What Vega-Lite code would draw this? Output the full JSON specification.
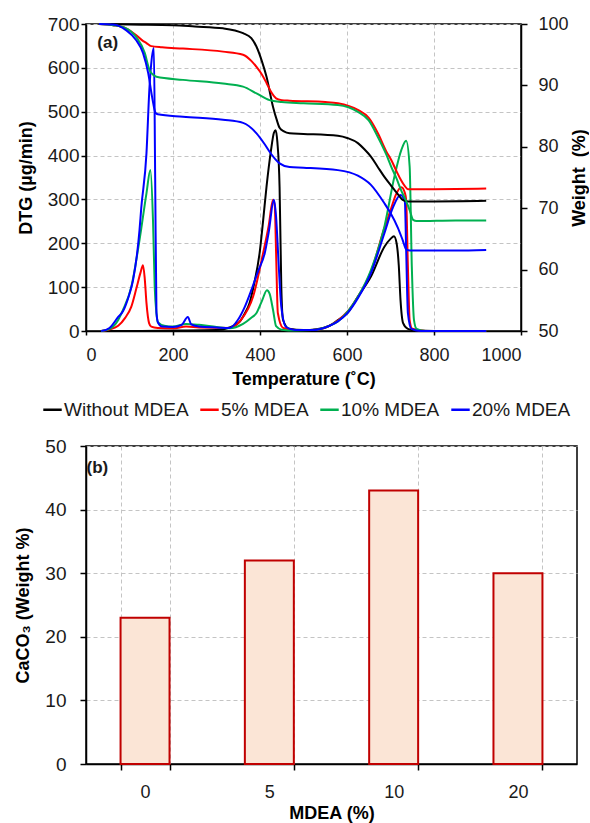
{
  "$schema": "https://vega.github.io/schema/vega-lite/v6.json",
  "padding": {"left": 14, "top": 14, "right": 0, "bottom": 0},
  "spacing": 15,
  "config": {
    "font": "Liberation Sans",
    "view": {"stroke": "black", "strokeWidth": 1.5},
    "axis": {
      "domainColor": "black", "domainWidth": 1.5,
      "tickColor": "black", "tickWidth": 1.5,
      "labelColor": "#1a1a1a", "labelFont": "Liberation Sans", "labelFontSize": 18,
      "titleFont": "Liberation Sans", "titleFontSize": 18, "titleFontWeight": "bold", "titleColor": "black",
      "gridColor": "#c4c4c4", "gridDash": [4, 3], "gridWidth": 1
    }
  },
  "resolve": {"scale": {"color": "independent"}},
  "datasets": {
    "dtg": [
      {"s":"Without MDEA","T":35,"v":0},{"s":"Without MDEA","T":100,"v":0},{"s":"Without MDEA","T":200,"v":1},{"s":"Without MDEA","T":300,"v":2},{"s":"Without MDEA","T":330,"v":8},{"s":"Without MDEA","T":353,"v":21},{"s":"Without MDEA","T":365,"v":40},{"s":"Without MDEA","T":376,"v":64},{"s":"Without MDEA","T":387,"v":110},{"s":"Without MDEA","T":399,"v":177},{"s":"Without MDEA","T":407,"v":250},{"s":"Without MDEA","T":415,"v":329},{"s":"Without MDEA","T":425,"v":410},{"s":"Without MDEA","T":432,"v":452},{"s":"Without MDEA","T":436,"v":458},{"s":"Without MDEA","T":440,"v":430},{"s":"Without MDEA","T":445,"v":328},{"s":"Without MDEA","T":449,"v":100},{"s":"Without MDEA","T":453,"v":25},{"s":"Without MDEA","T":467,"v":5},{"s":"Without MDEA","T":500,"v":2},{"s":"Without MDEA","T":530,"v":4},{"s":"Without MDEA","T":560,"v":12},{"s":"Without MDEA","T":579,"v":25},{"s":"Without MDEA","T":602,"v":42},{"s":"Without MDEA","T":625,"v":78},{"s":"Without MDEA","T":655,"v":124},{"s":"Without MDEA","T":686,"v":192},{"s":"Without MDEA","T":700,"v":210},{"s":"Without MDEA","T":708,"v":216},{"s":"Without MDEA","T":714,"v":200},{"s":"Without MDEA","T":719,"v":150},{"s":"Without MDEA","T":723,"v":71},{"s":"Without MDEA","T":729,"v":18},{"s":"Without MDEA","T":740,"v":5},{"s":"Without MDEA","T":760,"v":1},{"s":"Without MDEA","T":800,"v":0},{"s":"Without MDEA","T":920,"v":0},
      {"s":"5% MDEA","T":35,"v":0},{"s":"5% MDEA","T":55,"v":4},{"s":"5% MDEA","T":74,"v":12},{"s":"5% MDEA","T":90,"v":30},{"s":"5% MDEA","T":104,"v":55},{"s":"5% MDEA","T":116,"v":98},{"s":"5% MDEA","T":125,"v":132},{"s":"5% MDEA","T":131,"v":150},{"s":"5% MDEA","T":135,"v":120},{"s":"5% MDEA","T":139,"v":64},{"s":"5% MDEA","T":145,"v":18},{"s":"5% MDEA","T":150,"v":10},{"s":"5% MDEA","T":165,"v":7},{"s":"5% MDEA","T":200,"v":6},{"s":"5% MDEA","T":230,"v":10},{"s":"5% MDEA","T":260,"v":8},{"s":"5% MDEA","T":330,"v":7},{"s":"5% MDEA","T":356,"v":25},{"s":"5% MDEA","T":384,"v":78},{"s":"5% MDEA","T":407,"v":177},{"s":"5% MDEA","T":420,"v":240},{"s":"5% MDEA","T":430,"v":299},{"s":"5% MDEA","T":434,"v":285},{"s":"5% MDEA","T":437,"v":177},{"s":"5% MDEA","T":441,"v":41},{"s":"5% MDEA","T":453,"v":7},{"s":"5% MDEA","T":480,"v":2},{"s":"5% MDEA","T":520,"v":2},{"s":"5% MDEA","T":560,"v":12},{"s":"5% MDEA","T":579,"v":24},{"s":"5% MDEA","T":602,"v":45},{"s":"5% MDEA","T":625,"v":78},{"s":"5% MDEA","T":655,"v":135},{"s":"5% MDEA","T":686,"v":235},{"s":"5% MDEA","T":700,"v":275},{"s":"5% MDEA","T":712,"v":310},{"s":"5% MDEA","T":725,"v":328},{"s":"5% MDEA","T":733,"v":315},{"s":"5% MDEA","T":736,"v":299},{"s":"5% MDEA","T":740,"v":147},{"s":"5% MDEA","T":744,"v":25},{"s":"5% MDEA","T":750,"v":5},{"s":"5% MDEA","T":780,"v":0},{"s":"5% MDEA","T":920,"v":0},
      {"s":"10% MDEA","T":35,"v":0},{"s":"10% MDEA","T":55,"v":5},{"s":"10% MDEA","T":74,"v":25},{"s":"10% MDEA","T":85,"v":48},{"s":"10% MDEA","T":104,"v":100},{"s":"10% MDEA","T":123,"v":207},{"s":"10% MDEA","T":139,"v":314},{"s":"10% MDEA","T":148,"v":367},{"s":"10% MDEA","T":154,"v":253},{"s":"10% MDEA","T":158,"v":100},{"s":"10% MDEA","T":162,"v":40},{"s":"10% MDEA","T":165,"v":20},{"s":"10% MDEA","T":180,"v":12},{"s":"10% MDEA","T":200,"v":10},{"s":"10% MDEA","T":230,"v":16},{"s":"10% MDEA","T":260,"v":14},{"s":"10% MDEA","T":300,"v":9},{"s":"10% MDEA","T":330,"v":6},{"s":"10% MDEA","T":361,"v":16},{"s":"10% MDEA","T":380,"v":30},{"s":"10% MDEA","T":392,"v":41},{"s":"10% MDEA","T":405,"v":70},{"s":"10% MDEA","T":416,"v":93},{"s":"10% MDEA","T":422,"v":85},{"s":"10% MDEA","T":430,"v":48},{"s":"10% MDEA","T":437,"v":11},{"s":"10% MDEA","T":450,"v":3},{"s":"10% MDEA","T":480,"v":1},{"s":"10% MDEA","T":520,"v":2},{"s":"10% MDEA","T":560,"v":12},{"s":"10% MDEA","T":579,"v":22},{"s":"10% MDEA","T":602,"v":45},{"s":"10% MDEA","T":625,"v":78},{"s":"10% MDEA","T":655,"v":139},{"s":"10% MDEA","T":686,"v":238},{"s":"10% MDEA","T":709,"v":352},{"s":"10% MDEA","T":725,"v":413},{"s":"10% MDEA","T":736,"v":434},{"s":"10% MDEA","T":744,"v":375},{"s":"10% MDEA","T":749,"v":147},{"s":"10% MDEA","T":754,"v":25},{"s":"10% MDEA","T":760,"v":5},{"s":"10% MDEA","T":780,"v":0},{"s":"10% MDEA","T":920,"v":0},
      {"s":"20% MDEA","T":35,"v":0},{"s":"20% MDEA","T":54,"v":7},{"s":"20% MDEA","T":74,"v":32},{"s":"20% MDEA","T":85,"v":45},{"s":"20% MDEA","T":100,"v":85},{"s":"20% MDEA","T":108,"v":115},{"s":"20% MDEA","T":123,"v":230},{"s":"20% MDEA","T":127,"v":280},{"s":"20% MDEA","T":139,"v":405},{"s":"20% MDEA","T":146,"v":557},{"s":"20% MDEA","T":150,"v":610},{"s":"20% MDEA","T":156,"v":645},{"s":"20% MDEA","T":159,"v":350},{"s":"20% MDEA","T":162,"v":41},{"s":"20% MDEA","T":166,"v":18},{"s":"20% MDEA","T":175,"v":10},{"s":"20% MDEA","T":200,"v":9},{"s":"20% MDEA","T":220,"v":14},{"s":"20% MDEA","T":234,"v":32},{"s":"20% MDEA","T":242,"v":15},{"s":"20% MDEA","T":260,"v":10},{"s":"20% MDEA","T":300,"v":8},{"s":"20% MDEA","T":330,"v":7},{"s":"20% MDEA","T":349,"v":25},{"s":"20% MDEA","T":365,"v":55},{"s":"20% MDEA","T":380,"v":93},{"s":"20% MDEA","T":395,"v":135},{"s":"20% MDEA","T":411,"v":178},{"s":"20% MDEA","T":420,"v":225},{"s":"20% MDEA","T":432,"v":299},{"s":"20% MDEA","T":437,"v":260},{"s":"20% MDEA","T":443,"v":150},{"s":"20% MDEA","T":449,"v":55},{"s":"20% MDEA","T":460,"v":9},{"s":"20% MDEA","T":480,"v":2},{"s":"20% MDEA","T":520,"v":2},{"s":"20% MDEA","T":560,"v":12},{"s":"20% MDEA","T":579,"v":22},{"s":"20% MDEA","T":602,"v":42},{"s":"20% MDEA","T":625,"v":75},{"s":"20% MDEA","T":655,"v":132},{"s":"20% MDEA","T":686,"v":223},{"s":"20% MDEA","T":705,"v":280},{"s":"20% MDEA","T":723,"v":310},{"s":"20% MDEA","T":733,"v":295},{"s":"20% MDEA","T":736,"v":185},{"s":"20% MDEA","T":740,"v":41},{"s":"20% MDEA","T":748,"v":5},{"s":"20% MDEA","T":770,"v":0},{"s":"20% MDEA","T":920,"v":0}
    ],
    "wt": [
      {"s":"Without MDEA","T":30,"v":100},{"s":"Without MDEA","T":100,"v":99.9},{"s":"Without MDEA","T":200,"v":99.8},{"s":"Without MDEA","T":250,"v":99.6},{"s":"Without MDEA","T":315,"v":99.3},{"s":"Without MDEA","T":361,"v":98.5},{"s":"Without MDEA","T":380,"v":97.7},{"s":"Without MDEA","T":392,"v":96.3},{"s":"Without MDEA","T":405,"v":93.8},{"s":"Without MDEA","T":415,"v":91.4},{"s":"Without MDEA","T":430,"v":86.5},{"s":"Without MDEA","T":438,"v":84.5},{"s":"Without MDEA","T":445,"v":83.1},{"s":"Without MDEA","T":455,"v":82.5},{"s":"Without MDEA","T":468,"v":82.2},{"s":"Without MDEA","T":500,"v":82.1},{"s":"Without MDEA","T":579,"v":81.8},{"s":"Without MDEA","T":602,"v":81.4},{"s":"Without MDEA","T":625,"v":80.6},{"s":"Without MDEA","T":640,"v":79.6},{"s":"Without MDEA","T":655,"v":78.4},{"s":"Without MDEA","T":670,"v":76.8},{"s":"Without MDEA","T":686,"v":75.1},{"s":"Without MDEA","T":700,"v":73.8},{"s":"Without MDEA","T":709,"v":73.0},{"s":"Without MDEA","T":720,"v":72.0},{"s":"Without MDEA","T":729,"v":71.3},{"s":"Without MDEA","T":740,"v":71.1},{"s":"Without MDEA","T":800,"v":71.1},{"s":"Without MDEA","T":920,"v":71.2},
      {"s":"5% MDEA","T":30,"v":100},{"s":"5% MDEA","T":62,"v":99.8},{"s":"5% MDEA","T":92,"v":99.3},{"s":"5% MDEA","T":115,"v":98.2},{"s":"5% MDEA","T":130,"v":97.3},{"s":"5% MDEA","T":139,"v":96.9},{"s":"5% MDEA","T":150,"v":96.4},{"s":"5% MDEA","T":175,"v":96.2},{"s":"5% MDEA","T":223,"v":96.0},{"s":"5% MDEA","T":315,"v":95.5},{"s":"5% MDEA","T":361,"v":95.0},{"s":"5% MDEA","T":380,"v":94.0},{"s":"5% MDEA","T":392,"v":93.0},{"s":"5% MDEA","T":405,"v":91.7},{"s":"5% MDEA","T":415,"v":90.4},{"s":"5% MDEA","T":425,"v":89.0},{"s":"5% MDEA","T":437,"v":87.9},{"s":"5% MDEA","T":450,"v":87.6},{"s":"5% MDEA","T":468,"v":87.5},{"s":"5% MDEA","T":550,"v":87.3},{"s":"5% MDEA","T":579,"v":87.1},{"s":"5% MDEA","T":625,"v":86.0},{"s":"5% MDEA","T":650,"v":84.7},{"s":"5% MDEA","T":671,"v":82.2},{"s":"5% MDEA","T":690,"v":79.3},{"s":"5% MDEA","T":702,"v":77.8},{"s":"5% MDEA","T":714,"v":76.0},{"s":"5% MDEA","T":724,"v":74.6},{"s":"5% MDEA","T":733,"v":73.6},{"s":"5% MDEA","T":740,"v":73.1},{"s":"5% MDEA","T":800,"v":73.1},{"s":"5% MDEA","T":920,"v":73.2},
      {"s":"10% MDEA","T":30,"v":100},{"s":"10% MDEA","T":62,"v":99.8},{"s":"10% MDEA","T":92,"v":99.3},{"s":"10% MDEA","T":115,"v":97.9},{"s":"10% MDEA","T":135,"v":95.3},{"s":"10% MDEA","T":146,"v":92.5},{"s":"10% MDEA","T":155,"v":91.7},{"s":"10% MDEA","T":162,"v":91.4},{"s":"10% MDEA","T":223,"v":90.9},{"s":"10% MDEA","T":315,"v":90.3},{"s":"10% MDEA","T":361,"v":89.8},{"s":"10% MDEA","T":392,"v":88.7},{"s":"10% MDEA","T":422,"v":87.6},{"s":"10% MDEA","T":450,"v":87.3},{"s":"10% MDEA","T":500,"v":87.1},{"s":"10% MDEA","T":579,"v":86.8},{"s":"10% MDEA","T":625,"v":85.7},{"s":"10% MDEA","T":650,"v":84.3},{"s":"10% MDEA","T":671,"v":81.6},{"s":"10% MDEA","T":690,"v":78.8},{"s":"10% MDEA","T":702,"v":76.7},{"s":"10% MDEA","T":714,"v":74.8},{"s":"10% MDEA","T":724,"v":73.0},{"s":"10% MDEA","T":735,"v":71.3},{"s":"10% MDEA","T":744,"v":69.7},{"s":"10% MDEA","T":752,"v":68.1},{"s":"10% MDEA","T":760,"v":67.9},{"s":"10% MDEA","T":850,"v":68.0},{"s":"10% MDEA","T":920,"v":68.0},
      {"s":"20% MDEA","T":30,"v":100},{"s":"20% MDEA","T":62,"v":99.9},{"s":"20% MDEA","T":92,"v":99.0},{"s":"20% MDEA","T":115,"v":97.4},{"s":"20% MDEA","T":131,"v":95.3},{"s":"20% MDEA","T":143,"v":92.0},{"s":"20% MDEA","T":152,"v":88.1},{"s":"20% MDEA","T":160,"v":85.5},{"s":"20% MDEA","T":165,"v":85.3},{"s":"20% MDEA","T":223,"v":84.9},{"s":"20% MDEA","T":315,"v":84.4},{"s":"20% MDEA","T":361,"v":83.9},{"s":"20% MDEA","T":392,"v":82.2},{"s":"20% MDEA","T":410,"v":80.5},{"s":"20% MDEA","T":422,"v":79.2},{"s":"20% MDEA","T":435,"v":78.0},{"s":"20% MDEA","T":445,"v":77.3},{"s":"20% MDEA","T":468,"v":76.7},{"s":"20% MDEA","T":500,"v":76.6},{"s":"20% MDEA","T":579,"v":76.2},{"s":"20% MDEA","T":625,"v":75.3},{"s":"20% MDEA","T":655,"v":73.8},{"s":"20% MDEA","T":686,"v":70.8},{"s":"20% MDEA","T":700,"v":69.2},{"s":"20% MDEA","T":717,"v":66.8},{"s":"20% MDEA","T":728,"v":64.8},{"s":"20% MDEA","T":736,"v":63.3},{"s":"20% MDEA","T":745,"v":63.1},{"s":"20% MDEA","T":850,"v":63.1},{"s":"20% MDEA","T":920,"v":63.2}
    ],
    "bars": [
      {"m":"0","w":23},{"m":"5","w":32},{"m":"10","w":43},{"m":"20","w":30}
    ]
  },
  "vconcat": [
    {
      "width": 435,
      "height": 307,
      "layer": [
        {
          "layer": [
            {
              "data": {"name": "dtg"},
              "mark": {"type": "line", "strokeWidth": 2, "interpolate": "monotone"},
              "encoding": {
                "x": {"field": "T", "type": "quantitative", "scale": {"domain": [0, 1000]},
                      "axis": {"values": [0, 200, 400, 600, 800, 1000], "format": "d", "title": "Temperature (˚C)", "tickSize": 4, "labelPadding": 11, "titlePadding": 6}},
                "y": {"field": "v", "type": "quantitative", "scale": {"domain": [0, 700]},
                      "axis": {"values": [0, 100, 200, 300, 400, 500, 600, 700], "title": "DTG (µg/min)", "labelFontSize": 19, "tickSize": 5, "labelPadding": 2, "titlePadding": 12}},
                "color": {"field": "s", "type": "nominal",
                          "scale": {"domain": ["Without MDEA", "5% MDEA", "10% MDEA", "20% MDEA"], "range": ["#000000", "#FF0000", "#00B050", "#0000FF"]},
                          "legend": {"orient": "none", "legendX": -44, "legendY": 375, "direction": "horizontal", "title": null, "padding": 0, "symbolType": "stroke", "symbolSize": 340, "symbolStrokeWidth": 2.5, "labelFontSize": 19, "labelColor": "#1a1a1a", "labelOffset": 1, "columnPadding": 6}}
              }
            },
            {
              "data": {"values": [{}]},
              "mark": {"type": "text", "text": "(a)", "fontWeight": "bold", "fontSize": 17, "align": "left", "baseline": "middle", "color": "#1a1a1a"},
              "encoding": {"x": {"datum": 26, "type": "quantitative"}, "y": {"datum": 656, "type": "quantitative"}}
            }
          ]
        },
        {
          "data": {"name": "wt"},
          "mark": {"type": "line", "strokeWidth": 2, "interpolate": "monotone"},
          "encoding": {
            "x": {"field": "T", "type": "quantitative"},
            "y": {"field": "v", "type": "quantitative", "scale": {"domain": [50, 100]},
                  "axis": {"orient": "right", "values": [50, 60, 70, 80, 90, 100], "grid": false, "title": "Weight\u00a0 (%)", "titleAngle": 270, "tickSize": 6, "labelPadding": 11, "titlePadding": 20}},
            "color": {"field": "s", "type": "nominal"}
          }
        }
      ],
      "resolve": {"scale": {"y": "independent"}}
    },
    {
      "width": 491,
      "height": 318,
      "layer": [
        {
          "data": {"name": "bars"},
          "mark": {"type": "bar", "fill": "#FBE5D6", "stroke": "#C00000", "strokeWidth": 2},
          "encoding": {
            "x": {"field": "m", "type": "nominal", "sort": ["0", "5", "10", "20"],
                  "scale": {"paddingInner": 0.606, "paddingOuter": 0.278},
                  "axis": {"title": "MDEA (%)", "labelAngle": 0, "tickBand": "extent", "grid": true, "tickSize": 6, "labelPadding": 13, "titlePadding": 3}},
            "y": {"field": "w", "type": "quantitative", "scale": {"domain": [0, 50]},
                  "axis": {"values": [0, 10, 20, 30, 40, 50], "title": "CaCO₃ (Weight %)", "labelFontSize": 19, "tickSize": 6, "labelPadding": 14, "titlePadding": 12}}
          }
        },
        {
          "data": {"values": [{}]},
          "mark": {"type": "text", "text": "(b)", "fontWeight": "bold", "fontSize": 17, "align": "left", "baseline": "middle", "dx": -34, "color": "#1a1a1a"},
          "encoding": {"x": {"datum": "0", "bandPosition": 0}, "y": {"datum": 46.5, "type": "quantitative"}}
        }
      ]
    }
  ]
}
